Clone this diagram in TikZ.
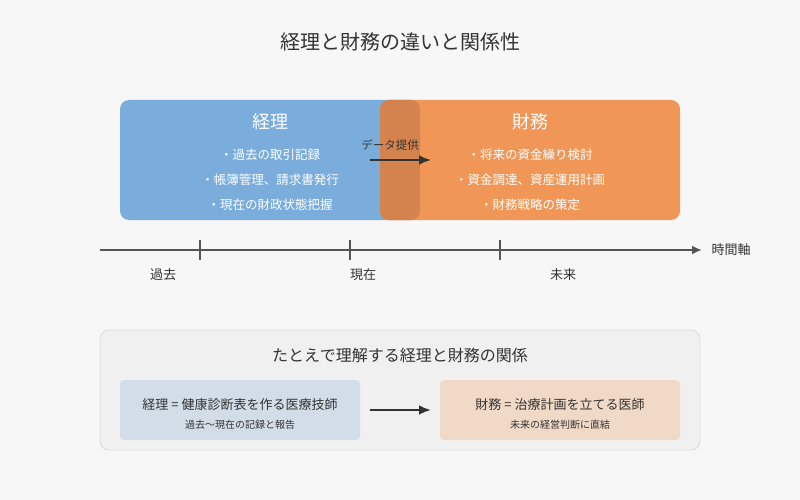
\documentclass[tikz,border=0pt]{standalone}
\usepackage{fontspec}
\setmainfont{Noto Sans CJK JP}
\usepackage{tikz}
\usetikzlibrary{positioning, arrows.meta, calc}

\definecolor{keiri}{HTML}{7AADDC}
\definecolor{zaimu}{HTML}{F09758}
\definecolor{overlap}{HTML}{D4834F}
\definecolor{bg}{HTML}{F7F7F7}
\definecolor{axis}{HTML}{555555}
\definecolor{ink}{HTML}{333333}

\tikzset{
    area/.style={rounded corners=9pt, draw=none},
    head/.style={text=white, font=\fontsize{18}{20}\selectfont},
    item/.style={text=white, font=\fontsize{12.5}{14}\selectfont},
    tlabel/.style={text=ink, font=\fontsize{13}{15}\selectfont},
    flow/.style={-{Latex[length=12pt,width=10pt]}, line width=2.5pt, draw=ink},
}

\begin{document}
\begin{tikzpicture}[x=1pt, y=-1pt]
    \fill[bg] (0,0) rectangle (800,500);
    \useasboundingbox (0,0) rectangle (800,500);

    \node[text=ink, font=\fontsize{20}{24}\selectfont] (title) at (400,42) {経理と財務の違いと関係性};

    % two areas
    \fill[area, keiri] (120,100) rectangle (420,220);
    \fill[area, zaimu] (380,100) rectangle (680,220);
    \fill[area, overlap] (380,100) rectangle (420,220);

    \node[head] (keirihead) at (270,122) {経理};
    \node[item] (k1) at (270,155) {・過去の取引記録};
    \node[item] (k2) at (270,180) {・帳簿管理、請求書発行};
    \node[item] (k3) at (270,205) {・現在の財政状態把握};

    \node[head] (zaimuhead) at (530,122) {財務};
    \node[item] (z1) at (530,155) {・将来の資金繰り検討};
    \node[item] (z2) at (530,180) {・資金調達、資産運用計画};
    \node[item] (z3) at (530,205) {・財務戦略の策定};

    \node[text=ink, font=\fontsize{11.5}{13}\selectfont] (data) at (390,145) {データ提供};
    \coordinate (dstart) at (370,160);
    \coordinate (dend) at (431,160);
    \draw[flow] (dstart) -- (dend);

    % time axis
    \coordinate (tstart) at (100,250);
    \coordinate (tend) at (702,250);
    \draw[-{Latex[length=10pt,width=9pt]}, line width=2pt, draw=axis] (tstart) -- (tend);
    \foreach \x in {200,350,500}
    {
        \draw[line width=1.5pt, axis] (\x,240) -- (\x,260);
    }
    \node[tlabel] (past) at (163,275) {過去};
    \node[tlabel] (now) at (363,275) {現在};
    \node[tlabel] (future) at (563,275) {未来};
    \node[tlabel, anchor=west] (axislabel) at (708,250) {時間軸};

    % analogy
    \draw[rounded corners=9pt, fill=gray!12, draw=gray!45] (100,330) rectangle (700,450);
    \node[text=ink, font=\fontsize{16}{19}\selectfont] (analogy) at (400,355) {たとえで理解する経理と財務の関係};

    \fill[rounded corners=4pt, fill={rgb,255:red,210;green,221;blue,232}] (120,380) rectangle (360,440);
    \node[text=ink, font=\fontsize{13}{15}\selectfont] (tech) at (240,405) {経理 = 健康診断表を作る医療技師};
    \node[text=ink, font=\fontsize{10}{12}\selectfont] (techsub) at (240,425) {過去〜現在の記録と報告};

    \fill[rounded corners=4pt, fill={rgb,255:red,240;green,217;blue,198}] (440,380) rectangle (680,440);
    \node[text=ink, font=\fontsize{13}{15}\selectfont] (doctor) at (560,405) {財務 = 治療計画を立てる医師};
    \node[text=ink, font=\fontsize{10}{12}\selectfont] (doctorsub) at (560,425) {未来の経営判断に直結};

    \coordinate (astart) at (370,410);
    \coordinate (aend) at (431,410);
    \draw[flow] (astart) -- (aend);
\end{tikzpicture}
\end{document}
